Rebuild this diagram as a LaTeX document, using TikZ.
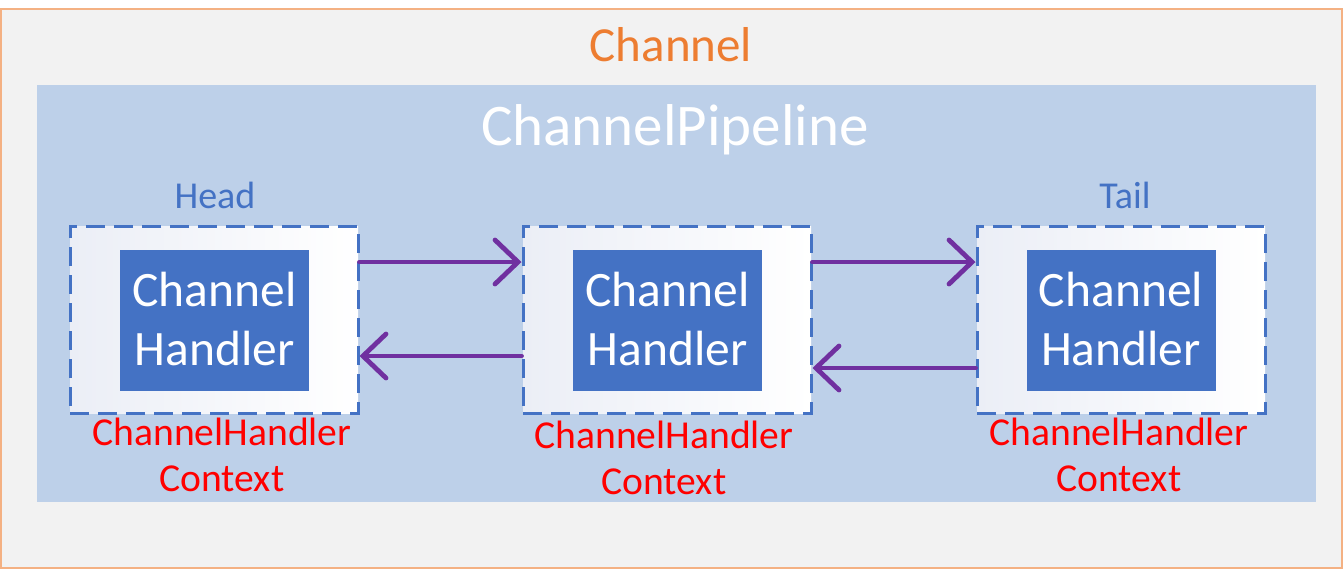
\documentclass[tikz,border=0pt]{standalone}
\usepackage{fontspec}
\setmainfont{Carlito}
\usepackage{tikz}
\usetikzlibrary{arrows.meta, positioning, calc}
\definecolor{chorange}{HTML}{ED7D31}
\definecolor{chframe}{HTML}{F4B183}
\definecolor{chgray}{HTML}{F2F2F2}
\definecolor{chlight}{HTML}{BDD0E9}
\definecolor{chblue}{HTML}{4472C4}
\definecolor{chshade}{HTML}{EBEEF6}
\definecolor{chpurple}{HTML}{7030A0}

\begin{document}
\begin{tikzpicture}[x=0.5pt, y=-0.5pt,
    ctxbox/.style={draw=chblue, line width=1.5pt, dash pattern=on 9.5pt off 4.5pt,
        left color=chshade, right color=white, inner sep=0pt,
        minimum width=144pt, minimum height=93.5pt},
    handler/.style={fill=chblue, text=white, align=center, inner sep=0pt,
        minimum width=94.5pt, minimum height=70.5pt,
        font=\fontsize{24.75}{29.5}\selectfont},
    ctxlabel/.style={text=red, align=center, inner sep=0pt,
        font=\fontsize{19.8}{23}\selectfont},
    endlabel/.style={text=chblue, inner sep=0pt, font=\fontsize{19}{22}\selectfont},
    flow/.style={draw=chpurple, line width=2.4pt, line cap=round,
        -{Straight Barb[length=11.5pt, width=22pt, line cap=round]}}]
    \useasboundingbox (0,0) rectangle (1344,570);

    % Channel
    \draw[draw=chframe, line width=0.6pt, fill=chgray] (1,9) rectangle (1342,568);
    \node[text=chorange, inner sep=0pt, font=\fontsize{24.5}{29}\selectfont] (channel) at (671,45) {Channel};

    % ChannelPipeline
    \fill[chlight] (37,85) rectangle (1316,502);
    \node[text=white, inner sep=0pt, font=\fontsize{29.5}{35}\selectfont] (pipeline) at (675,130) {ChannelPipeline};

    % 三个 context
    \node[ctxbox] (head) at (214,319.5) {};
    \node[ctxbox] (mid) at (667,319.5) {};
    \node[ctxbox] (tail) at (1121,319.5) {};

    \node[handler, text depth=2pt] (headh) at (214.5,320.5) {Channel\\Handler};
    \node[handler, text depth=2pt] (midh) at (667.5,320.5) {Channel\\Handler};
    \node[handler, text depth=2pt] (tailh) at (1121,320.5) {Channel\\Handler};

    \node[endlabel] (headlbl) at (215,195) {Head};
    \node[endlabel] (taillbl) at (1125,195) {Tail};

    \node[ctxlabel] (headctx) at (222,455) {ChannelHandler\\Context};
    \node[ctxlabel] (midctx) at (664,458) {ChannelHandler\\Context};
    \node[ctxlabel] (tailctx) at (1119,455) {ChannelHandler\\Context};

    % 箭头
    \draw[flow] (head.east |- 0,262) -- (mid.west |- 0,262);
    \draw[flow] (mid.west |- 0,356) -- (head.east |- 0,356);
    \draw[flow] (mid.east |- 0,262) -- (tail.west |- 0,262);
    \draw[flow] (tail.west |- 0,368) -- (mid.east |- 0,368);
\end{tikzpicture}
\end{document}
